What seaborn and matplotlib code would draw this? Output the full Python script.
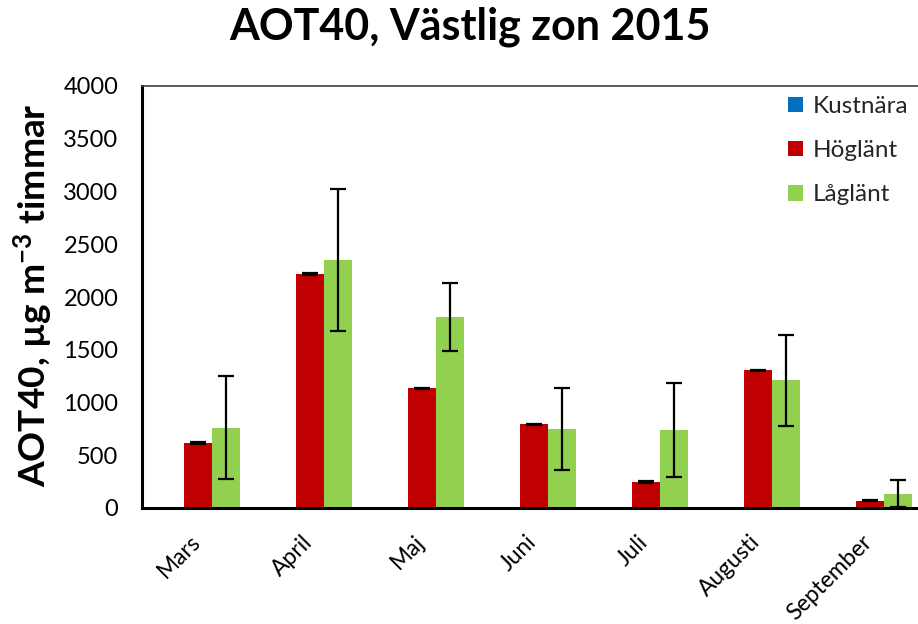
import matplotlib
matplotlib.use("Agg")
import matplotlib.pyplot as plt
import matplotlib.transforms as mtransforms
from matplotlib.patches import Patch
import seaborn as sns
import pandas as pd
import numpy as np

months = ["Mars", "April", "Maj", "Juni", "Juli", "Augusti", "September"]
series = ["Kustnära", "Höglänt", "Låglänt"]
kustnara = [0, 0, 0, 0, 0, 0, 0]
hoglant = [615, 2218, 1134, 792, 246, 1305, 70]
laglant = [763, 2352, 1812, 746, 737, 1210, 137]
kustnara_err = [0, 0, 0, 0, 0, 0, 0]
hoglant_err = [6, 6, 6, 6, 6, 6, 6]
laglant_err = [485, 672, 320, 389, 445, 430, 125]
colors = ["#0070C0", "#C00000", "#92D050"]
yticks = [0, 500, 1000, 1500, 2000, 2500, 3000, 3500, 4000]

sns.set_theme(style="white")
plt.rcParams["font.family"] = ["Lato", "DejaVu Sans"]
plt.rcParams["mathtext.fontset"] = "custom"
plt.rcParams["mathtext.rm"] = "Lato:bold"
plt.rcParams["mathtext.default"] = "rm"

rows = []
for s, vals, errs in zip(series, [kustnara, hoglant, laglant],
                         [kustnara_err, hoglant_err, laglant_err]):
    for m, v, e in zip(months, vals, errs):
        rows.append({"Månad": m, "Serie": s, "AOT40": v, "err": e})
df = pd.DataFrame(rows)

fig = plt.figure(figsize=(9.18, 6.24), dpi=100)
ax = fig.add_axes([142 / 918, 116 / 624, 784 / 918, 422 / 624])

sns.barplot(data=df, x="Månad", y="AOT40", hue="Serie", order=months,
            hue_order=series, palette=colors, errorbar=None, width=0.75,
            gap=0, saturation=1, ax=ax, legend=False, linewidth=0)

# error bars at the bar centres
for container, s in zip(ax.containers, series):
    if s == "Kustnära":
        continue
    sub = df[df["Serie"] == s].set_index("Månad").loc[months]
    xs = [p.get_x() + p.get_width() / 2 for p in container.patches]
    hs = [p.get_height() for p in container.patches]
    ax.errorbar(xs, hs, yerr=sub["err"].values, fmt="none", ecolor="black",
                elinewidth=1.6, capsize=5.5, capthick=1.6, zorder=5)

ax.set_ylim(0, 4000)
ax.set_xlim(-0.5, len(months) - 0.5)
ax.set_yticks(yticks)
ax.set_yticklabels([str(t) for t in yticks], fontsize=17, color="black")
ax.tick_params(axis="y", direction="in", length=8, width=1.5, color="black", pad=17)
ax.tick_params(axis="x", length=0, pad=2)
ax.set_xlabel("")
ax.set_ylabel("")

offset = mtransforms.ScaledTranslation(-1 / 100, -28 / 100, fig.dpi_scale_trans)
ax.set_xticks(range(len(months)))
ax.set_xticklabels(months, rotation=45, ha="right", va="center",
                   rotation_mode="anchor", fontsize=16.5, color="black")
for lbl in ax.get_xticklabels():
    lbl.set_transform(lbl.get_transform() + offset)

for side in ["left", "bottom"]:
    ax.spines[side].set_color("black")
    ax.spines[side].set_linewidth(2.2)
ax.spines["top"].set_color("#404040")
ax.spines["top"].set_linewidth(1.2)
ax.spines["right"].set_visible(False)

handles = [Patch(facecolor=c, edgecolor="none", label=s) for c, s in zip(colors, series)]
ax.legend(handles=handles, loc="upper left", bbox_to_anchor=(0.796, 1.028),
          frameon=False, fontsize=17.5, handlelength=0.62, handleheight=0.62,
          handletextpad=0.4, labelspacing=0.95)

fig.text(0.512, 0.957, "AOT40, Västlig zon 2015", ha="center", va="center",
         fontsize=31, fontweight="bold", color="black")
fig.text(33 / 918, 1 - 295 / 624, "AOT40, µg m$^{-3}$ timmar", rotation=90,
         ha="center", va="center", fontsize=26.7, fontweight="bold", color="black")

fig.savefig("out.png", dpi=100)
